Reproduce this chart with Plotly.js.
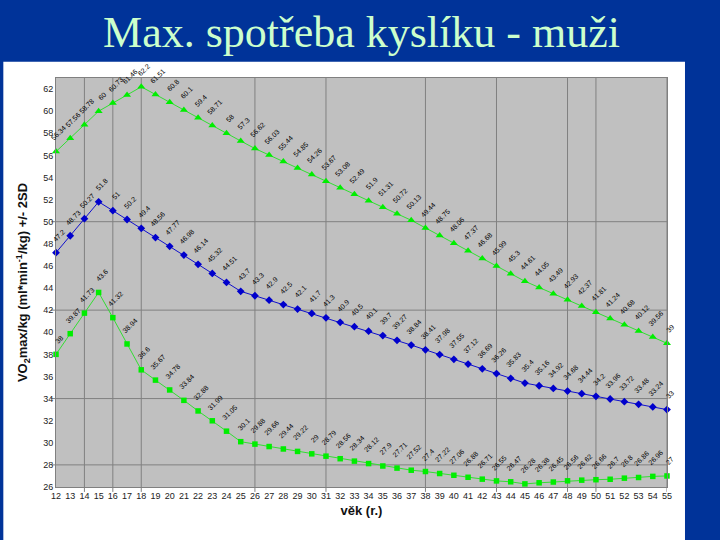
<!DOCTYPE html>
<html>
<head>
<meta charset="utf-8">
<script src="https://cdn.plot.ly/plotly-3.0.1.min.js"></script>
<style>html,body{margin:0;padding:0;background:#003399;}#chart{width:720px;height:540px;}</style>
</head>
<body>
<div id="chart"></div>
<script>
// ages (x categories)
const ages = [12,13,14,15,16,17,18,19,20,21,22,23,24,25,26,27,28,29,30,31,32,33,34,35,36,37,38,39,40,41,42,43,44,45,46,47,48,49,50,51,52,53,54,55];
// mean VO2max/kg
const meanVals = [47.2,48.73,50.27,51.8,51,50.2,49.4,48.56,47.77,46.98,46.14,45.32,44.51,43.7,43.3,42.9,42.5,42.1,41.7,41.3,40.9,40.5,40.1,39.7,39.27,38.84,38.41,37.98,37.55,37.12,36.69,36.26,35.83,35.4,35.16,34.92,34.68,34.44,34.2,33.96,33.72,33.48,33.24,33];
// mean + 2SD
const upperVals = [56.34,57.56,58.78,60,60.73,61.46,62.2,61.51,60.8,60.1,59.4,58.71,58,57.3,56.62,56.03,55.44,54.85,54.26,53.67,53.08,52.49,51.9,51.31,50.72,50.13,49.44,48.75,48.06,47.37,46.68,45.99,45.3,44.61,44.05,43.49,42.93,42.37,41.81,41.24,40.68,40.12,39.56,39];
// mean - 2SD
const lowerVals = [38,39.87,41.73,43.6,41.32,38.94,36.6,35.67,34.78,33.84,32.88,31.99,31.05,30.1,29.88,29.66,29.44,29.22,29,28.79,28.56,28.34,28.12,27.9,27.71,27.52,27.4,27.22,27.06,26.88,26.71,26.55,26.47,26.28,26.38,26.45,26.56,26.62,26.66,26.7,26.8,26.86,26.96,27];
// gridline positions
const gridX = [14,16,18,26,31,38,43,48,50,55];
const gridY = [28,34,42,50];
const yTicks = [26,28,30,32,34,36,38,40,42,44,46,48,50,52,54,56,58,60,62];

const titleText = 'Max. spotřeba kyslíku - muži';
const xTitle = '<b>věk (r.)</b>';
const yTitle = '<b>VO<sub>2</sub>max/kg (ml*min<sup>-1</sup>/kg) +/- 2SD</b>';

const traces = [
  {x: ages, y: upperVals, mode: 'lines+markers', type: 'scatter', cliponaxis: false,
   line: {color: '#33dd33', width: 1}, marker: {symbol: 'triangle-up', size: 7, color: '#00ee00'}},
  {x: ages, y: meanVals, mode: 'lines+markers', type: 'scatter', cliponaxis: false,
   line: {color: '#1010cc', width: 1}, marker: {symbol: 'diamond', size: 6, color: '#0000cc'}},
  {x: ages, y: lowerVals, mode: 'lines+markers', type: 'scatter', cliponaxis: false,
   line: {color: '#33dd33', width: 1}, marker: {symbol: 'square', size: 5.5, color: '#00ee00'}}
];

const annotations = [];
[upperVals, meanVals, lowerVals].forEach(series => {
  series.forEach((v, i) => {
    annotations.push({x: ages[i], y: v, xref: 'x', yref: 'y', text: String(v), showarrow: false,
      textangle: -45, xanchor: 'center', yanchor: 'bottom', xshift: 3, yshift: 7,
      font: {family: 'Liberation Sans, Arial', size: 7, color: '#000'}});
  });
});

const L = 55.7, R = 667, T = 78.3, B = 486.7;
const W = R - L, H = B - T;
const shapes = [
  {type: 'rect', xref: 'paper', yref: 'paper', x0: (3 - L) / W, x1: (685 - L) / W, y0: -0.2, y1: (B - 62) / H,
   fillcolor: '#ffffff', line: {width: 0}, layer: 'below'},
  {type: 'rect', xref: 'paper', yref: 'paper', x0: 0, x1: 1, y0: 0, y1: 1,
   fillcolor: '#c0c0c0', line: {width: 0}, layer: 'below'}
];
gridX.forEach(g => shapes.push({type: 'line', xref: 'x', yref: 'paper', x0: g, x1: g, y0: -0.012, y1: 1,
  line: {color: '#808080', width: 1}, layer: 'below'}));
gridY.forEach(g => shapes.push({type: 'line', xref: 'paper', yref: 'y', x0: -0.008, x1: 1, y0: g, y1: g,
  line: {color: '#808080', width: 1}, layer: 'below'}));

const layout = {
  width: 720, height: 540,
  paper_bgcolor: '#003399', plot_bgcolor: 'rgba(0,0,0,0)',
  margin: {l: L, r: 720 - R, t: T, b: 540 - B},
  showlegend: false,
  title: {text: titleText, x: 0.5, xanchor: 'center', xref: 'paper', y: 1 - 32 / 540, yanchor: 'middle', yref: 'container',
    font: {family: 'Liberation Serif, Times New Roman, serif', size: 44, color: '#ccffcc'}},
  xaxis: {range: [12, 55], tickvals: ages, ticktext: ages.map(String), showgrid: false, zeroline: false,
    showline: true, mirror: true, linecolor: '#808080', linewidth: 1, ticks: '',
    tickfont: {family: 'Liberation Sans, Arial', size: 9, color: '#222'},
    title: {text: xTitle, standoff: 6, font: {family: 'Liberation Sans, Arial', size: 13, color: '#111'}}},
  yaxis: {range: [26, 63], tickvals: yTicks, showgrid: false, zeroline: false,
    showline: true, mirror: true, linecolor: '#808080', linewidth: 1, ticks: '',
    tickfont: {family: 'Liberation Sans, Arial', size: 9, color: '#222'},
    title: {text: yTitle, standoff: 12, font: {family: 'Liberation Sans, Arial', size: 13, color: '#111'}}},
  shapes: shapes,
  annotations: annotations
};

Plotly.newPlot('chart', traces, layout, {displayModeBar: false, staticPlot: true});
</script>
</body>
</html>
